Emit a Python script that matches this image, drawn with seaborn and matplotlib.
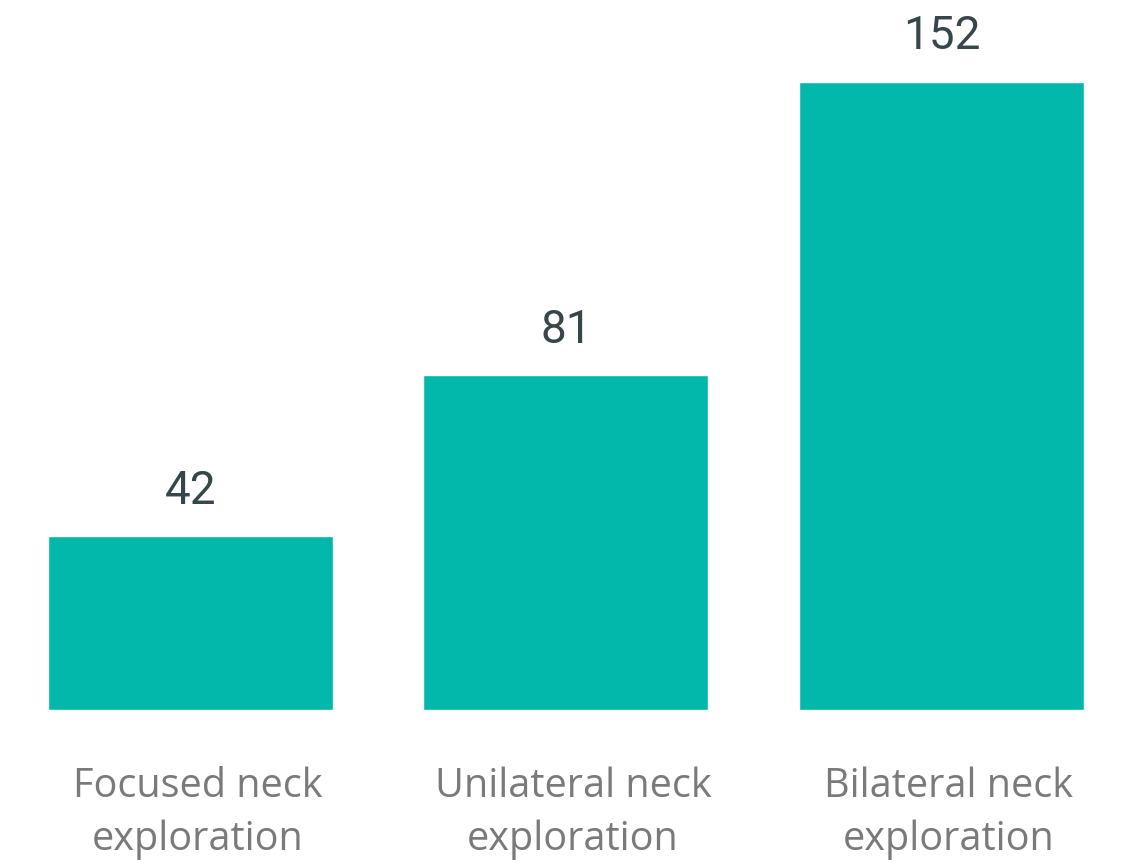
import matplotlib
matplotlib.use("Agg")
import matplotlib.pyplot as plt
import matplotlib.transforms as mtransforms
import seaborn as sns
import pandas as pd

categories = ["Focused neck\nexploration", "Unilateral neck\nexploration", "Bilateral neck\nexploration"]
values = [42, 81, 152]

sns.set_style("white")
plt.rcParams['font.family'] = ['Open Sans', 'DejaVu Sans']

df = pd.DataFrame({"category": categories, "value": values})

fig = plt.figure(figsize=(11.27, 8.68), dpi=100)
ax = fig.add_axes([0, 158/868, 1, 710/868])
sns.barplot(data=df, x="category", y="value", color="#01B8AA", saturation=1,
            width=0.759, ax=ax)
ax.set_xlim(-0.507, 2.494)
ax.set_ylim(0, 171.8)
for c in ax.containers:
    ax.bar_label(c, padding=17, fontsize=33, color="#374649", family="Roboto")
ax.set_xlabel("")
ax.set_ylabel("")
ax.set_yticks([])
ax.tick_params(axis="x", length=0, pad=41, labelsize=28.5, labelcolor="#7a7a7a")
offset = mtransforms.ScaledTranslation(7/100, 0, fig.dpi_scale_trans)
for lbl in ax.get_xticklabels():
    lbl.set_linespacing(1.39)
    lbl.set_transform(lbl.get_transform() + offset)
for s in ax.spines.values():
    s.set_visible(False)
fig.savefig("out.png", dpi=100)
